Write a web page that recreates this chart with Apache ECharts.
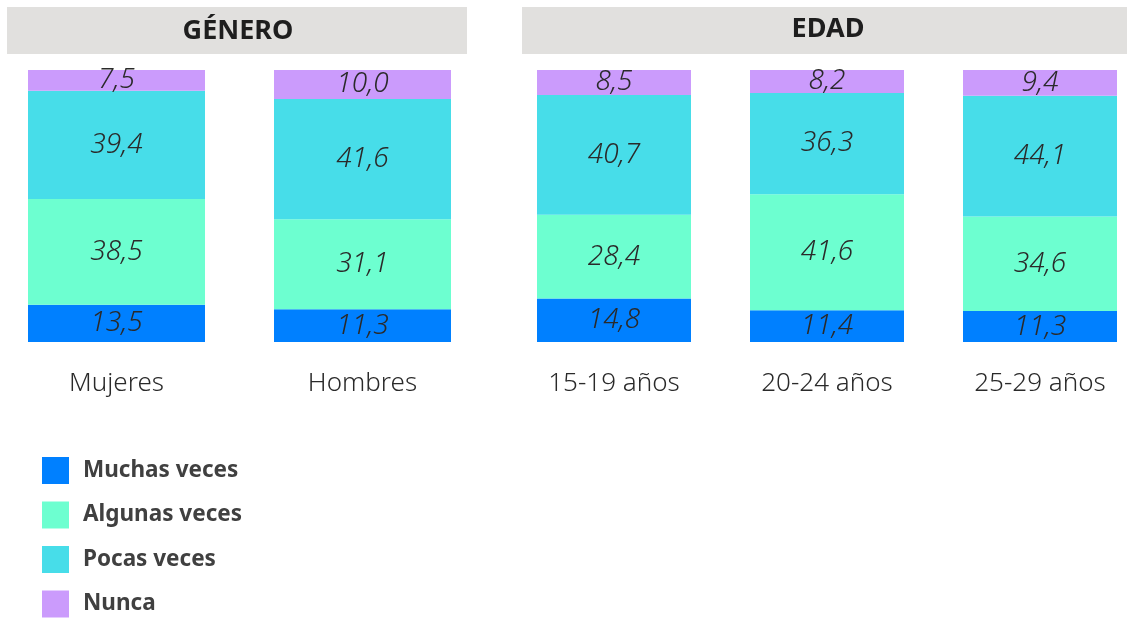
<!DOCTYPE html>
<html><head><meta charset="utf-8">
<script src="https://cdn.jsdelivr.net/npm/echarts@6/dist/echarts.min.js"></script>
<style>html,body{margin:0;padding:0;background:#fff}#c{width:1127px;height:619px}</style>
</head><body><div id="c"></div>
<script>
const seriesNames = ['Muchas veces', 'Algunas veces', 'Pocas veces', 'Nunca'];
const colors = ['#0080ff', '#6dffd0', '#47dde9', '#cb9bfc'];

const generoCategories = ['Mujeres', 'Hombres'];
const generoMuchas  = [13.5, 11.3];
const generoAlgunas = [38.5, 31.1];
const generoPocas   = [39.4, 41.6];
const generoNunca   = [7.5, 10.0];

const edadCategories = ['15-19 años', '20-24 años', '25-29 años'];
const edadMuchas  = [14.8, 11.4, 11.3];
const edadAlgunas = [28.4, 41.6, 34.6];
const edadPocas   = [40.7, 36.3, 44.1];
const edadNunca   = [8.5, 8.2, 9.4];

const FONT = '"Noto Sans", "Open Sans", sans-serif';

function buildSeries(groups, axisIndex, barWidth) {
  const n = groups[0].length;
  const totals = [];
  for (let i = 0; i < n; i++) totals.push(groups.reduce((s, g) => s + g[i], 0));
  return groups.map((g, k) => ({
    name: seriesNames[k],
    type: 'bar',
    stack: 'g' + axisIndex,
    xAxisIndex: axisIndex,
    yAxisIndex: axisIndex,
    barWidth: barWidth,
    itemStyle: { color: colors[k] },
    label: {
      show: true,
      position: 'inside',
      fontFamily: FONT,
      fontStyle: 'italic',
      fontWeight: 300,
      fontSize: 28,
      color: '#2a2a2a',
      formatter: p => p.data.raw.toFixed(1).replace('.', ',')
    },
    data: g.map((v, i) => ({ value: v / totals[i] * 100, raw: v }))
  }));
}

const chart = echarts.init(document.getElementById('c'), null, { renderer: 'canvas' });
const axisLabelStyle = { fontFamily: FONT, fontSize: 26, fontWeight: 300, color: '#2a2a2a', margin: 29 };

chart.setOption({
  animation: false,
  backgroundColor: '#fff',
  grid: [
    { left: 116.5, width: 246, top: 70, bottom: 277 },
    { left: 614, width: 426, top: 70, bottom: 277 }
  ],
  xAxis: [
    { type: 'category', gridIndex: 0, boundaryGap: false, data: generoCategories, axisLine: { show: false }, axisTick: { show: false }, axisLabel: axisLabelStyle },
    { type: 'category', gridIndex: 1, boundaryGap: false, data: edadCategories, axisLine: { show: false }, axisTick: { show: false }, axisLabel: axisLabelStyle }
  ],
  yAxis: [
    { type: 'value', gridIndex: 0, min: 0, max: 100, show: false },
    { type: 'value', gridIndex: 1, min: 0, max: 100, show: false }
  ],
  legend: {
    orient: 'vertical',
    left: 42,
    top: 457,
    padding: 0,
    itemWidth: 27,
    itemHeight: 27,
    itemGap: 17.5,
    icon: 'rect',
    data: seriesNames,
    textStyle: { fontFamily: FONT, fontSize: 22.5, fontWeight: 'bold', color: '#404040', padding: [0, 0, 0, 9] }
  },
  graphic: [
    { type: 'rect', shape: { x: 7, y: 7, width: 460, height: 47 }, style: { fill: '#e1e0de' } },
    { type: 'text', x: 238, y: 31, style: { text: 'GÉNERO', fontFamily: FONT, fontSize: 27, fontWeight: 'bold', fill: '#1e1e1e', align: 'center', verticalAlign: 'middle' } },
    { type: 'rect', shape: { x: 522, y: 7, width: 605, height: 47 }, style: { fill: '#e1e0de' } },
    { type: 'text', x: 828, y: 29, style: { text: 'EDAD', fontFamily: FONT, fontSize: 27, fontWeight: 'bold', fill: '#1e1e1e', align: 'center', verticalAlign: 'middle' } }
  ],
  series: [
    ...buildSeries([generoMuchas, generoAlgunas, generoPocas, generoNunca], 0, 177),
    ...buildSeries([edadMuchas, edadAlgunas, edadPocas, edadNunca], 1, 154)
  ]
});
</script>
</body></html>
